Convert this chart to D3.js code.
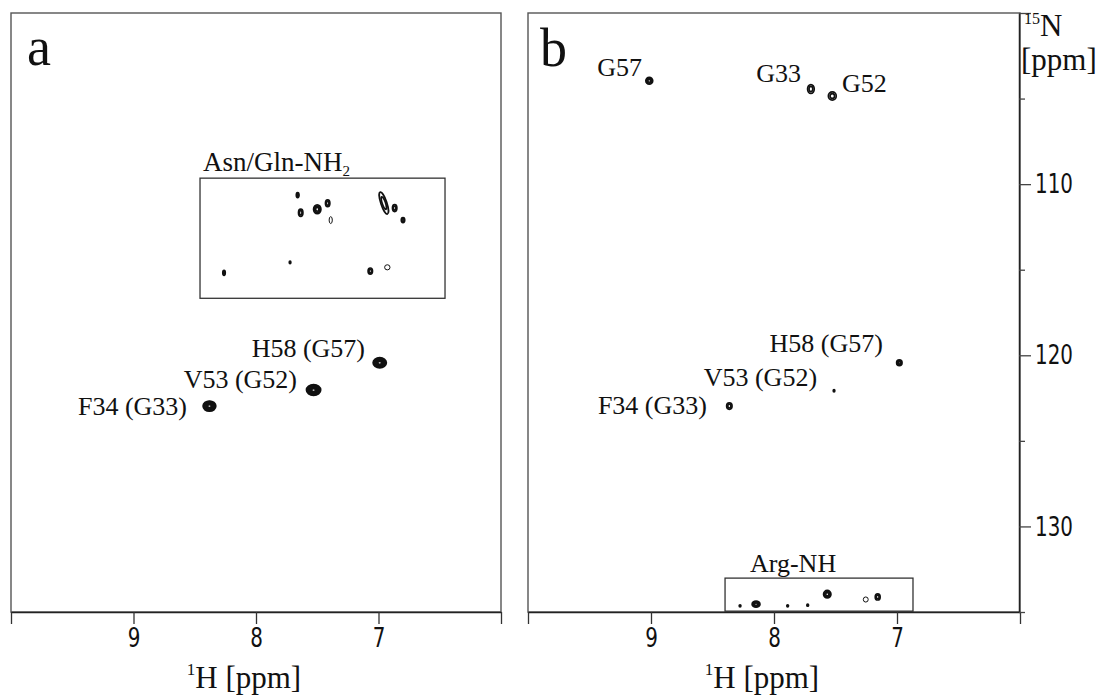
<!DOCTYPE html>
<html>
<head>
<meta charset="utf-8">
<script src="https://cdn.jsdelivr.net/npm/d3@7"></script>
<style>
  body { margin: 0; background: #fff; }
  svg { display: block; }
  .serif { font-family: 'Liberation Serif', 'Times New Roman', serif; fill: #111; }
  .tick text { font-family: 'Liberation Sans Narrow', 'DejaVu Sans Condensed', sans-serif; font-size: 27px; fill: #111; }
</style>
</head>
<body>
<svg width="1106" height="697"></svg>
<script>
const width = 1106
const height = 697

// 1H ticks (ppm) and 15N ticks (ppm)
const hTicks = [10, 9, 8, 7, 6]
const hLabels = [9, 8, 7]
const nMajor = [100, 110, 120, 130]
const nMinor = [105, 115, 125, 135]
const nLabels = [110, 120, 130]

// peaks: h / n in ppm, wh / wn = half linewidth in ppm, lev = contour levels
const mainPeaksA = [
  { h: 6.99, n: 120.44, wh: 0.054, wn: 0.30, lev: 6 },
  { h: 7.53, n: 122.03, wh: 0.058, wn: 0.32, lev: 7 },
  { h: 8.38, n: 122.97, wh: 0.052, wn: 0.30, lev: 6 }
]
const amidePeaksA = [
  { h: 7.66, n: 110.64, wh: 0.011, wn: 0.15, lev: 2 },
  { h: 7.635, n: 111.67, wh: 0.018, wn: 0.21, lev: 2 },
  { h: 7.50, n: 111.47, wh: 0.030, wn: 0.26, lev: 3 },
  { h: 7.415, n: 111.12, wh: 0.018, wn: 0.20, lev: 2 },
  { h: 7.39, n: 112.10, wh: 0.013, wn: 0.20, lev: 1, open: true },
  { h: 6.98, n: 110.60, h2: 6.933, n2: 111.61, wh: 0.024, wn: 0.14, lev: 2 },
  { h: 6.868, n: 111.40, wh: 0.018, wn: 0.20, lev: 2 },
  { h: 6.80, n: 112.10, wh: 0.014, wn: 0.15, lev: 2 },
  { h: 8.261, n: 115.18, wh: 0.010, wn: 0.15, lev: 2 },
  { h: 7.722, n: 114.57, wh: 0.006, wn: 0.08, lev: 1 },
  { h: 7.067, n: 115.08, wh: 0.018, wn: 0.18, lev: 2 },
  { h: 6.928, n: 114.86, wh: 0.022, wn: 0.15, lev: 1, open: true }
]
const mainPeaksB = [
  { h: 9.014, n: 103.96, wh: 0.028, wn: 0.20, lev: 3 },
  { h: 7.70, n: 104.44, wh: 0.027, wn: 0.26, lev: 2 },
  { h: 7.526, n: 104.85, wh: 0.032, wn: 0.24, lev: 2 },
  { h: 6.981, n: 120.44, wh: 0.022, wn: 0.17, lev: 3 },
  { h: 7.512, n: 122.07, wh: 0.006, wn: 0.07, lev: 1 },
  { h: 8.363, n: 122.97, wh: 0.022, wn: 0.19, lev: 2 }
]
const argPeaksB = [
  { h: 8.276, n: 134.64, wh: 0.007, wn: 0.06, lev: 1 },
  { h: 8.146, n: 134.54, wh: 0.032, wn: 0.18, lev: 3 },
  { h: 7.889, n: 134.64, wh: 0.007, wn: 0.06, lev: 1 },
  { h: 7.726, n: 134.60, wh: 0.007, wn: 0.06, lev: 1 },
  { h: 7.567, n: 133.96, wh: 0.030, wn: 0.22, lev: 3 },
  { h: 7.254, n: 134.27, wh: 0.020, wn: 0.15, lev: 1, open: true },
  { h: 7.157, n: 134.12, wh: 0.020, wn: 0.18, lev: 2 }
]

// boxed regions (ppm)
const boxA = { h1: 8.457, h2: 6.457, n1: 109.65, n2: 116.67 }
const boxB = { h1: 8.398, h2: 6.870, n1: 133.02, n2: 134.95 }

// annotations: text, anchor point in ppm
const labelsA = [
  { text: 'H58 (G57)', h: 7.11, n: 120.1, anchor: 'end' },
  { text: 'V53 (G52)', h: 7.665, n: 121.92, anchor: 'end' },
  { text: 'F34 (G33)', h: 8.563, n: 123.5, anchor: 'end' }
]
const labelsB = [
  { text: 'G57', h: 9.073, n: 103.68, anchor: 'end' },
  { text: 'G33', h: 7.78, n: 104.03, anchor: 'end' },
  { text: 'G52', h: 7.447, n: 104.62, anchor: 'start' },
  { text: 'H58 (G57)', h: 7.114, n: 119.81, anchor: 'end' },
  { text: 'V53 (G52)', h: 7.65, n: 121.8, anchor: 'end' },
  { text: 'F34 (G33)', h: 8.545, n: 123.44, anchor: 'end' },
  { text: 'Arg-NH', h: 8.195, n: 132.67, anchor: 'start' }
]

const svg = d3.select('svg')

const y = d3.scaleLinear().domain([100, 135]).range([13, 612])
const xA = d3.scaleLinear().domain([10, 6]).range([11, 501])
const xB = d3.scaleLinear().domain([10, 6]).range([528, 1020])

// narrow the tick digits like the original plotting font
function narrow(sel, origin) {
  sel.style('transform-box', 'fill-box')
    .style('transform-origin', origin)
    .style('transform', 'scaleX(0.82)')
}

function drawFrame(x) {
  svg.append('rect')
    .attr('x', x(10))
    .attr('y', y(100))
    .attr('width', x(6) - x(10))
    .attr('height', y(135) - y(100))
    .attr('fill', 'none')
    .attr('stroke', '#555')
    .attr('stroke-width', 1.4)
}

function drawXAxis(x, title) {
  const axis = d3.axisBottom(x)
    .tickValues(hTicks)
    .tickFormat(d => hLabels.includes(d) ? d : '')
    .tickSize(12)
    .tickSizeOuter(0)
    .tickPadding(4)
  const g = svg.append('g')
    .attr('transform', `translate(0,${y(135)})`)
    .call(axis)
  g.select('.domain').attr('stroke', '#222').attr('stroke-width', 1.5)
  g.selectAll('.tick line').attr('stroke', '#333').attr('stroke-width', 1.3)
  g.selectAll('.tick text').call(narrow, 'center')

  const t = svg.append('text')
    .attr('class', 'serif')
    .attr('x', (x(10) + x(6)) / 2 - 12)
    .attr('y', 688)
    .attr('text-anchor', 'middle')
    .style('font-size', '31px')
  t.append('tspan').attr('dy', -13).style('font-size', '17px').text('1')
  t.append('tspan').attr('dy', 13).text(title)
}

function rings(x, peaks) {
  return peaks.flatMap(p => {
    let cx = x(p.h), cy = y(p.n)
    let rx = Math.abs(x(0) - x(p.wh))
    let ry = Math.abs(y(100 + p.wn) - y(100))
    let angle = 0
    if (p.h2 !== undefined) {
      const x2 = x(p.h2), y2 = y(p.n2)
      const dx = x2 - cx, dy = y2 - cy
      angle = -Math.atan2(dx, dy) * 180 / Math.PI
      ry += Math.hypot(dx, dy) / 2
      cx = (cx + x2) / 2
      cy = (cy + y2) / 2
    }
    return d3.range(p.lev).map(k => ({
      cx, cy, angle,
      rx: rx * (1 - 0.85 * k / p.lev),
      ry: ry * (1 - 0.85 * k / p.lev),
      open: p.open
    }))
  })
}

function drawPeaks(x, peaks) {
  svg.append('g')
    .selectAll('ellipse')
    .data(rings(x, peaks))
    .join('ellipse')
    .attr('cx', d => d.cx)
    .attr('cy', d => d.cy)
    .attr('rx', d => Math.max(d.rx, 0.8))
    .attr('ry', d => Math.max(d.ry, 0.8))
    .attr('transform', d => `rotate(${d.angle},${d.cx},${d.cy})`)
    .attr('fill', 'none')
    .attr('stroke', '#111')
    .attr('stroke-width', d => d.open ? 1 : 1.7)
}

function drawBox(x, b) {
  svg.append('rect')
    .attr('x', x(b.h1))
    .attr('y', y(b.n1))
    .attr('width', x(b.h2) - x(b.h1))
    .attr('height', y(b.n2) - y(b.n1))
    .attr('fill', 'none')
    .attr('stroke', '#333')
    .attr('stroke-width', 1.3)
}

function drawLabels(x, labels) {
  svg.append('g')
    .selectAll('text')
    .data(labels)
    .join('text')
    .attr('class', 'serif')
    .attr('x', d => x(d.h))
    .attr('y', d => y(d.n))
    .attr('text-anchor', d => d.anchor)
    .style('font-size', '26px')
    .text(d => d.text)
}

// panel a
drawFrame(xA)
drawBox(xA, boxA)
drawPeaks(xA, amidePeaksA)
drawPeaks(xA, mainPeaksA)
drawLabels(xA, labelsA)
drawXAxis(xA, 'H [ppm]')

const asn = svg.append('text')
  .attr('class', 'serif')
  .attr('x', xA(boxA.h1) + 3)
  .attr('y', y(boxA.n1) - 7)
  .style('font-size', '27px')
asn.append('tspan').text('Asn/Gln-NH')
asn.append('tspan').attr('dy', 5).style('font-size', '15px').text('2')

svg.append('text')
  .attr('class', 'serif')
  .attr('x', 27)
  .attr('y', 65)
  .style('font-size', '54px')
  .text('a')

// panel b
drawFrame(xB)
drawBox(xB, boxB)
drawPeaks(xB, mainPeaksB)
drawPeaks(xB, argPeaksB)
drawLabels(xB, labelsB)
drawXAxis(xB, 'H [ppm]')

svg.append('text')
  .attr('class', 'serif')
  .attr('x', 540)
  .attr('y', 66)
  .style('font-size', '54px')
  .text('b')

// 15N axis on the right
const nAxis = svg.append('g')
  .attr('transform', `translate(${xB(6) - 1},0)`)
  .call(d3.axisRight(y)
    .tickValues(nMajor)
    .tickFormat(d => nLabels.includes(d) ? d : '')
    .tickSize(12)
    .tickSizeOuter(0)
    .tickPadding(4))
nAxis.select('.domain').attr('stroke', '#222').attr('stroke-width', 1.5)
nAxis.selectAll('.tick line').attr('stroke', '#444').attr('stroke-width', 1.3)
nAxis.selectAll('.tick text').call(narrow, 'left center')

const nMinorAxis = svg.append('g')
  .attr('transform', `translate(${xB(6) - 1},0)`)
  .call(d3.axisRight(y)
    .tickValues(nMinor)
    .tickFormat('')
    .tickSize(6)
    .tickSizeOuter(0))
nMinorAxis.select('.domain').remove()
nMinorAxis.selectAll('.tick line').attr('stroke', '#444').attr('stroke-width', 1.3)

const nTitle = svg.append('text')
  .attr('class', 'serif')
  .attr('x', 1024)
  .attr('y', 36)
  .style('font-size', '31px')
nTitle.append('tspan').attr('dy', -12).style('font-size', '16px').text('15')
nTitle.append('tspan').attr('dy', 12).text('N')

svg.append('text')
  .attr('class', 'serif')
  .attr('x', 1021)
  .attr('y', 70)
  .style('font-size', '31px')
  .text('[ppm]')
</script>
</body>
</html>
